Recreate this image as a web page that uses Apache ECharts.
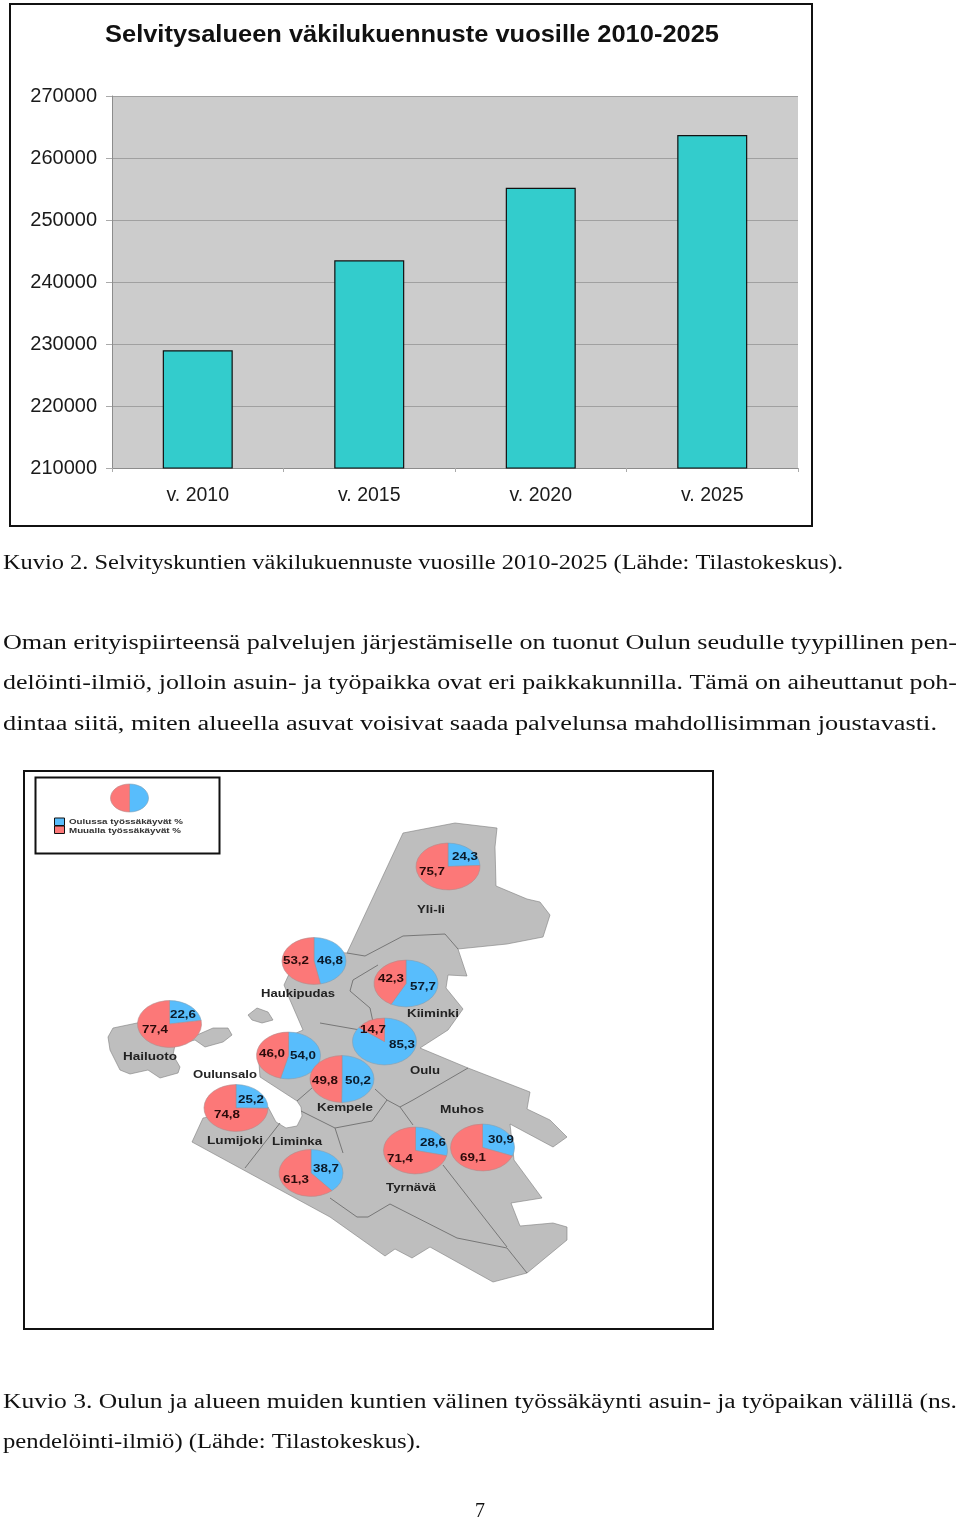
<!DOCTYPE html>
<html><head><meta charset="utf-8"><style>html,body{margin:0;padding:0;background:#fff}#c{width:960px;height:1520px}</style>
<script src="https://cdn.jsdelivr.net/npm/echarts@6/dist/echarts.min.js"></script></head>
<body><div id="c"></div>
<script>
const chartTitle = 'Selvitysalueen väkilukuennuste vuosille 2010-2025';
const years = ['v. 2010','v. 2015','v. 2020','v. 2025'];
const population = [229000,243500,255200,263700];
const municipalities = ['Yli-Ii','Haukipudas','Kiiminki','Oulu','Hailuoto','Oulunsalo','Kempele','Lumijoki','Liminka','Tyrnävä','Muhos'];
const inOulu = [24.3,46.8,57.7,85.3,22.6,54.0,50.2,25.2,38.7,28.6,30.9];
const elsewhere = [75.7,53.2,42.3,14.7,77.4,46.0,49.8,74.8,61.3,71.4,69.1];
const legendNames = ['Oulussa työssäkäyvät %','Muualla työssäkäyvät %'];

// layout tables (page pixels): [cx, cy, blue label x,y, red label x,y, name x,y]
const pieLayout = [
 [448,866.5, 465,856, 432,871, 431,909],
 [314,961, 330,960, 296,960, 298,993],
 [406,983.5, 423,986, 391,978, 433,1013],
 [384.5,1041.5, 402,1044, 373,1029, 425,1070],
 [169.5,1024, 183,1014, 155,1029, 150,1056],
 [288.5,1055.5, 303,1055, 272,1053, 225,1074],
 [342,1079, 358,1080, 325,1080, 345,1107],
 [236,1108, 251,1099, 227,1114, 235,1140],
 [311,1173, 326,1168, 296,1179, 297,1141],
 [415.5,1150.5, 433,1142, 400,1158, 411,1187],
 [482.5,1147.5, 501,1139, 473,1157, 462,1109]
];
const BLUE='#58BDFC', RED='#FC7878', GRAYLAND='#BEBEBE', EDGE='#7d7d7d';

const mainland = [[403,833],[455,823],[497,828],[495,847],[496,886],[527,899],[540,902],[550,915],[543,937],[507,944],[458,949],[467,976],[448,975],[446,988],[463,1009],[448,1030],[420,1048],[468,1068],[530,1092],[527,1109],[550,1120],[567,1137],[553,1147],[510,1124],[514,1160],[542,1198],[511,1203],[520,1226],[553,1223],[567,1227],[567,1240],[527,1273],[493,1282],[430,1247],[412,1258],[395,1249],[385,1256],[330,1217],[192,1142],[203,1118],[268,1107],[276,1122],[286,1128],[297,1126],[302,1116],[301,1107],[297,1101],[260,1077],[258,1050],[303,1030],[290,1000],[284,985],[300,950],[347,953]];
const hailuoto = [[108,1037],[113,1028],[137,1023],[150,1020],[197,1035],[213,1028],[228,1028],[232,1035],[223,1042],[205,1047],[195,1040],[175,1045],[173,1055],[180,1067],[178,1073],[160,1078],[148,1070],[130,1074],[120,1070],[110,1050]];
const islet = [[248,1015],[257,1008],[268,1012],[273,1020],[262,1023],[252,1020]];
const borders = [
 [[347,953],[365,956],[403,936],[445,934],[458,949]],
 [[378,965],[353,980],[350,991],[370,1008],[373,1022]],
 [[320,1023],[360,1030]],
 [[468,1068],[413,1100],[400,1107]],
 [[375,1089],[387,1100],[400,1107],[413,1125]],
 [[387,1100],[372,1121],[335,1128],[343,1153]],
 [[330,1198],[357,1217],[368,1217],[390,1204],[457,1238],[507,1248],[527,1273]],
 [[443,1165],[507,1247]],
 [[297,1101],[312,1088]],
 [[301,1111],[335,1128]],
 [[280,1123],[245,1168]],
];

const mc = document.createElement('canvas').getContext('2d');
function fit(text,font,x0,x1){ mc.font=font; return (x1-x0)/mc.measureText(text).width; }
function line(text,x0,x1,y,font,fill){
  return {type:'text',x:x0,y:y,scaleX:fit(text,font,x0,x1),silent:true,
    style:{text:text,font:font,fill:fill||'#111',align:'left',verticalAlign:'middle'}};
}
function centered(text,cx,y,font,w,fill){
  return {type:'text',x:cx,y:y,scaleX:fit(text,font,0,w),silent:true,
    style:{text:text,font:font,fill:fill||'#1a1a1a',align:'center',verticalAlign:'middle'}};
}
const SERIF='20px "Liberation Serif"';
const bodyLines = [
 ['Kuvio 2. Selvityskuntien väkilukuennuste vuosille 2010-2025 (Lähde: Tilastokeskus).',3,843,564],
 ['Oman erityispiirteensä palvelujen järjestämiselle on tuonut Oulun seudulle tyypillinen pen-',3,957,644],
 ['delöinti-ilmiö, jolloin asuin- ja työpaikka ovat eri paikkakunnilla. Tämä on aiheuttanut poh-',3,957,684],
 ['dintaa siitä, miten alueella asuvat voisivat saada palvelunsa mahdollisimman joustavasti.',3,937,725],
 ['Kuvio 3. Oulun ja alueen muiden kuntien välinen työssäkäynti asuin- ja työpaikan välillä (ns.',3,957,1403],
 ['pendelöinti-ilmiö) (Lähde: Tilastokeskus).',3,421,1443]
];

const frame=(x,y,w,h)=>({type:'rect',shape:{x,y,width:w,height:h},style:{fill:null,stroke:'#111',lineWidth:2},silent:true});
const land=(pts)=>({type:'polygon',shape:{points:pts},style:{fill:GRAYLAND,stroke:EDGE,lineWidth:0.6},silent:true});

const graphics = [
 frame(10,4,802,522),
 frame(24,771,689,558),
 frame(35.5,777.5,184,76),
 land(mainland),land(hailuoto),land(islet),
 ...borders.map(b=>({type:'polyline',shape:{points:b},style:{stroke:'#6e6e6e',lineWidth:0.9,fill:null},silent:true})),
 {type:'rect',shape:{x:54.5,y:818,width:10,height:7.5},style:{fill:BLUE,stroke:'#111',lineWidth:1},silent:true},
 {type:'rect',shape:{x:54.5,y:826,width:10,height:7.5},style:{fill:RED,stroke:'#111',lineWidth:1},silent:true},
 line(legendNames[0],69,183,822,'bold 8px "Liberation Sans"','#333'),
 line(legendNames[1],69,181,830.5,'bold 8px "Liberation Sans"','#333'),
 line(chartTitle,105,719,35.5,'bold 24px "Liberation Sans"','#111'),
 ...bodyLines.map(l=>line(l[0],l[1],l[2],l[3],SERIF)),
 {type:'text',x:480,y:1512,style:{text:'7',font:SERIF,fill:'#111',align:'center',verticalAlign:'middle'},silent:true}
];

function fmt(v){ return v.toFixed(1).replace('.',','); }
const LBL='bold 10.5px "Liberation Sans"';
const nameWidths = [28,74,52,30,54,64,56,56,50,50,44];

const chart = echarts.init(document.getElementById('c'),null,{renderer:'canvas',width:960,height:1520});
chart.setOption({
  animation:false,
  backgroundColor:'#fff',
  graphic:{elements:graphics},
  grid:{left:112,right:162,top:96,height:372,show:true,backgroundColor:'#CCCCCC',borderWidth:0},
  xAxis:{type:'category',data:years,
    axisLine:{lineStyle:{color:'#8c8c8c',width:1}},
    axisTick:{show:true,length:4,alignWithLabel:false,lineStyle:{color:'#aaa'}},
    axisLabel:{color:'#1a1a1a',fontFamily:'Liberation Sans',fontSize:19.5,margin:18}},
  yAxis:{type:'value',min:210000,max:270000,interval:10000,
    axisLine:{show:true,lineStyle:{color:'#8c8c8c',width:1}},
    axisTick:{show:true,length:6,lineStyle:{color:'#aaa'}},
    axisLabel:{color:'#1a1a1a',fontFamily:'Liberation Sans',fontSize:20,margin:15,formatter:function(v){return String(v);}},
    splitLine:{show:true,lineStyle:{color:'#a0a0a0',width:1}}},
  series:[
   {type:'bar',name:'Väkiluku',data:population,barWidth:70,itemStyle:{color:'#33CCCC',borderColor:'#111',borderWidth:1.2},silent:true},
   {type:'custom',name:'Työssäkäynti',coordinateSystem:'none',silent:true,z:5,
    data:municipalities.map((m,i)=>({name:m,value:[inOulu[i],elsewhere[i]]})),
    renderItem:function(params,api){
      const i=params.dataIndex, L=pieLayout[i], b=api.value(0), r=api.value(1);
      const split=-Math.PI/2+2*Math.PI*b/(b+r);
      return {type:'group',children:[
        {type:'group',x:L[0],y:L[1],scaleY:23.4/32,children:[
          {type:'sector',shape:{cx:0,cy:0,r:32,r0:0,startAngle:-Math.PI/2,endAngle:split},style:{fill:BLUE,stroke:'#7f9fb5',lineWidth:0.7}},
          {type:'sector',shape:{cx:0,cy:0,r:32,r0:0,startAngle:split,endAngle:Math.PI*1.5},style:{fill:RED,stroke:'#b58a8a',lineWidth:0.7}}
        ]},
        centered(fmt(b),L[2],L[3]+1,LBL,26,'#0a1a2a'),
        centered(fmt(r),L[4],L[5]+1,LBL,26,'#2a0a0a'),
        centered(municipalities[i],L[6],L[7]+1,LBL,nameWidths[i],'#222')
      ]};
    }},
   {type:'custom',name:'Selite',coordinateSystem:'none',silent:true,z:5,
    data:[{name:'Selite',value:[50,50]}],
    renderItem:function(params,api){
      const b=api.value(0), r=api.value(1), split=-Math.PI/2+2*Math.PI*b/(b+r);
      return {type:'group',x:129.5,y:798,scaleY:14/19,children:[
        {type:'sector',shape:{cx:0,cy:0,r:19,r0:0,startAngle:-Math.PI/2,endAngle:split},style:{fill:BLUE,stroke:'#7f9fb5',lineWidth:0.7}},
        {type:'sector',shape:{cx:0,cy:0,r:19,r0:0,startAngle:split,endAngle:Math.PI*1.5},style:{fill:RED,stroke:'#b58a8a',lineWidth:0.7}}
      ]};
    }}
  ]
});
</script></body></html>
